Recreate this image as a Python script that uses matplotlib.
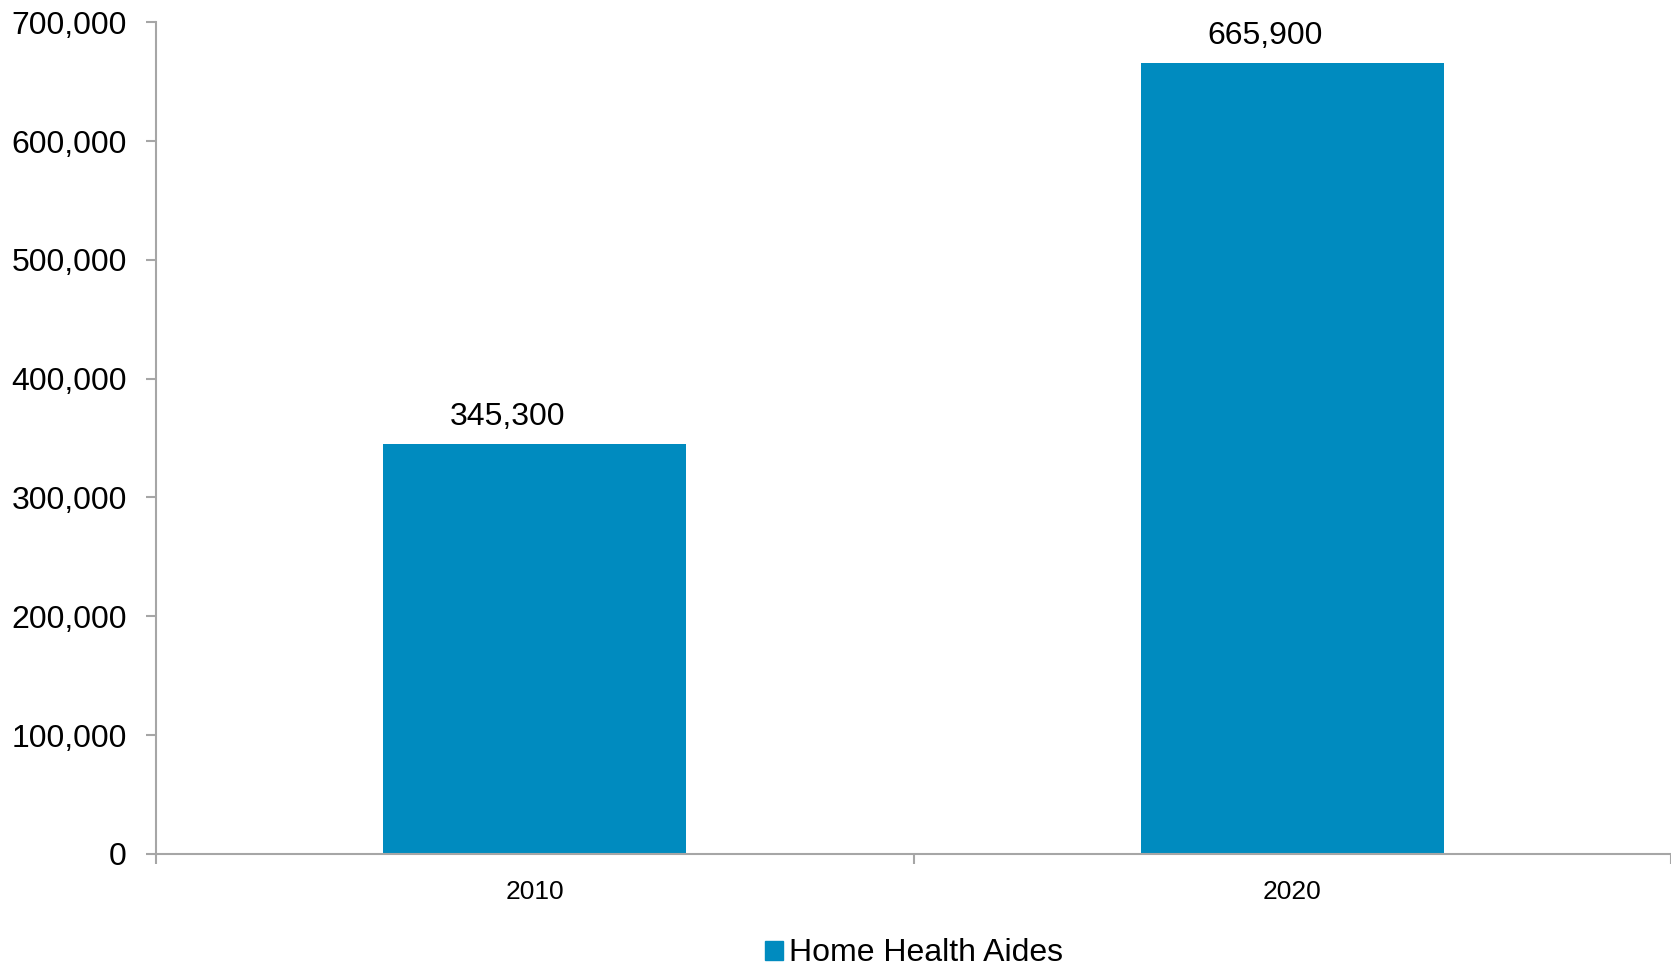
import matplotlib
matplotlib.use("Agg")
import matplotlib.pyplot as plt
from matplotlib.ticker import FuncFormatter, FixedLocator
from matplotlib.patches import Patch

# Data
years = ["2010", "2020"]
aides = [345300, 665900]
series_name = "Home Health Aides"

plt.rcParams['font.family'] = ['Liberation Sans', 'DejaVu Sans']

fig = plt.figure(figsize=(16.71, 9.66), dpi=100)
ax = fig.add_axes([0.0934, 0.116, 0.9066, 0.861])

xpos = list(range(len(years)))
bars = ax.bar(xpos, aides, width=0.4, color="#008bbf")

# data labels (Excel puts them a bit left of center)
for x, v in zip(xpos, aides):
    ax.annotate(f"{v:,}", xy=(x, v), xytext=(-27, 12), textcoords="offset pixels",
                ha="center", va="bottom", fontsize=23, color="black")

ax.set_xlim(-0.5, len(years) - 0.5)
ax.set_ylim(0, 700000)
ax.set_yticks(range(0, 700001, 100000))
ax.yaxis.set_major_formatter(FuncFormatter(lambda v, p: f"{int(v):,}"))

ax.set_xticks(xpos)
ax.set_xticklabels(years)
ax.xaxis.set_minor_locator(FixedLocator([-0.5, 0.5, 1.5]))

for s in ["top", "right"]:
    ax.spines[s].set_visible(False)
for s in ["left", "bottom"]:
    ax.spines[s].set_color("#a6a6a6")
    ax.spines[s].set_linewidth(1.5)

ax.tick_params(axis="y", length=7, width=1.5, color="#a6a6a6", labelsize=23, pad=14)
ax.tick_params(axis="x", which="major", length=0, labelsize=19, pad=19)
ax.tick_params(axis="x", which="minor", length=7, width=1.5, color="#a6a6a6")

fig.legend(handles=[Patch(color="#008bbf", label=series_name)], loc="center",
           bbox_to_anchor=(0.547, 0.013), frameon=False, fontsize=23,
           handlelength=0.55, handleheight=0.55, handletextpad=0.2)

fig.savefig("out.png", dpi=100)
